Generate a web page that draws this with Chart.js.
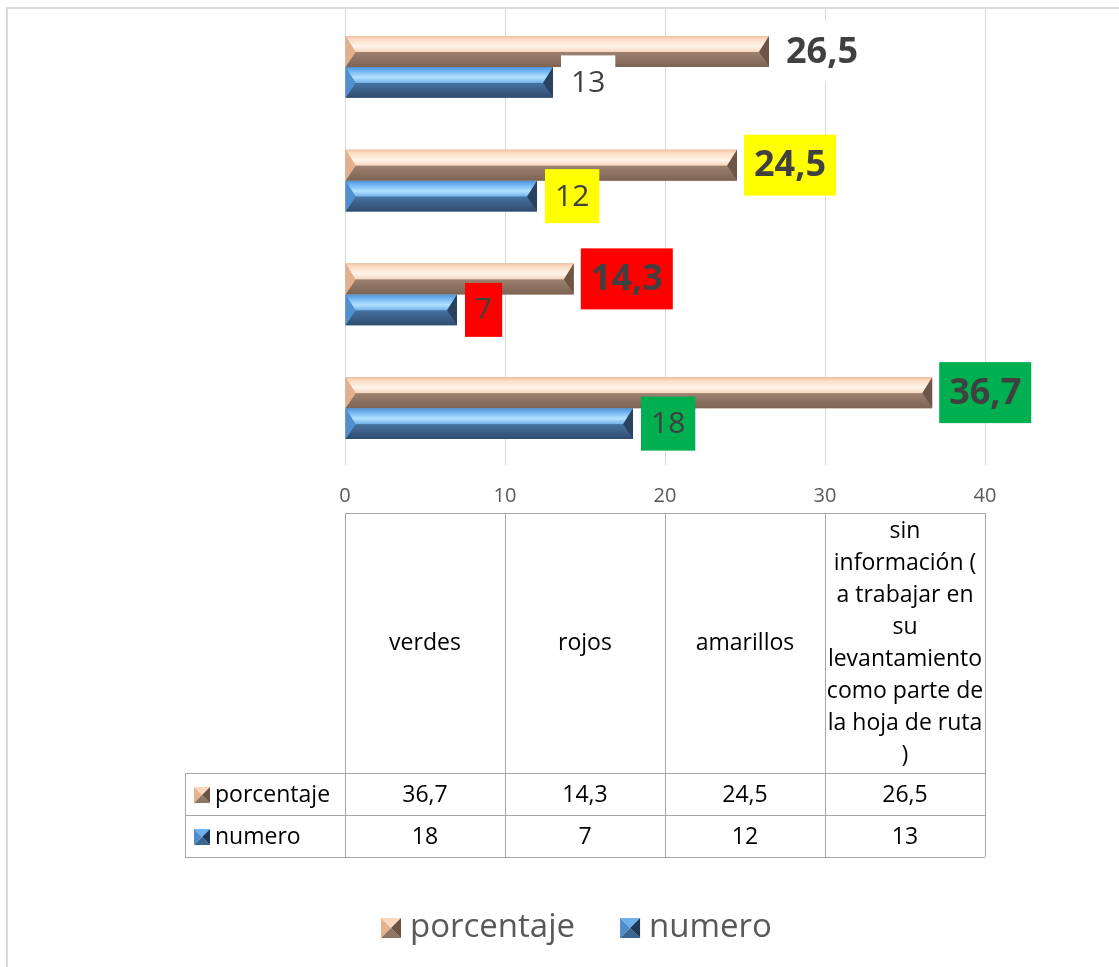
<!DOCTYPE html>
<html>
<head>
<meta charset="utf-8">
<script src="https://cdn.jsdelivr.net/npm/chart.js@4.4.1/dist/chart.umd.min.js"></script>
<style>
  html, body { margin: 0; padding: 0; background: #fff; }
</style>
</head>
<body>
<canvas id="chart" width="1119" height="967"></canvas>
<script>
// data
const categories = [
  "verdes",
  "rojos",
  "amarillos",
  ["sin", "información (", "a trabajar en", "su", "levantamiento", "como parte de", "la hoja de ruta", ")"]
];
const porcentaje = [36.7, 14.3, 24.5, 26.5];
const numero = [18, 7, 12, 13];
const xTicks = [0, 10, 20, 30, 40];
const seriesNames = ["porcentaje", "numero"];

// label box colours, one per category
const labelFills = ["#00b050", "#ff0000", "#ffff00", "#ffffff"];

const FONT = "'Open Sans', 'Noto Sans', sans-serif";

const palettes = {
  porcentaje: {
    top: ["#f2bf9b", "#fcdcc3", "#fff4ea", "#f6d5bc"],
    bot: ["#9d8170", "#7c6353"],
    left: "#e2b08c", right: "#6d5647",
    icon: { hi: "#fcd9bc", left: "#e6b38f", right: "#6b5446", bot: "#8f7463" }
  },
  numero: {
    top: ["#4f8fd0", "#69adef", "#b2e2ff", "#70afea"],
    bot: ["#46729f", "#2f4c6f"],
    left: "#5190cf", right: "#28435f",
    icon: { hi: "#6fb0ee", left: "#4e8ccc", right: "#1f3a58", bot: "#3a6591" }
  }
};

function fmt(v, dec) {
  return dec ? v.toFixed(1).replace(".", ",") : String(v);
}

function poly(ctx, pts, fill) {
  ctx.beginPath();
  ctx.moveTo(pts[0][0], pts[0][1]);
  for (let i = 1; i < pts.length; i++) ctx.lineTo(pts[i][0], pts[i][1]);
  ctx.closePath();
  ctx.fillStyle = fill;
  ctx.fill();
}

// bevelled bar drawn over the library's bar element
function bevelBar(ctx, x0, x1, top, bot, pal) {
  const h = bot - top;
  const d = Math.min(10, (x1 - x0) / 2);
  const mid = top + h * 0.52;
  let g = ctx.createLinearGradient(0, top, 0, mid);
  g.addColorStop(0, pal.top[0]);
  g.addColorStop(0.2, pal.top[1]);
  g.addColorStop(0.65, pal.top[2]);
  g.addColorStop(1, pal.top[3]);
  poly(ctx, [[x0, top], [x1, top], [x1 - d, mid], [x0 + d, mid]], g);
  g = ctx.createLinearGradient(0, mid, 0, bot);
  g.addColorStop(0, pal.bot[0]);
  g.addColorStop(1, pal.bot[1]);
  poly(ctx, [[x0 + d, mid], [x1 - d, mid], [x1, bot], [x0, bot]], g);
  poly(ctx, [[x0, top], [x0 + d, mid], [x0, bot]], pal.left);
  poly(ctx, [[x1, top], [x1, bot], [x1 - d, mid]], pal.right);
}

function pyramid(ctx, x, y, s, c) {
  const cx = x + s / 2, cy = y + s / 2;
  poly(ctx, [[x, y], [x + s, y], [cx, cy]], c.hi);
  poly(ctx, [[x, y], [x, y + s], [cx, cy]], c.left);
  poly(ctx, [[x, y + s], [x + s, y + s], [cx, cy]], c.bot);
  poly(ctx, [[x + s, y], [x + s, y + s], [cx, cy]], c.right);
}

const decor = {
  id: "decor",
  beforeDraw(chart) {
    const ctx = chart.ctx;
    ctx.save();
    ctx.fillStyle = "#fff";
    ctx.fillRect(0, 0, chart.width, chart.height);
    ctx.strokeStyle = "#d9d9d9";
    ctx.lineWidth = 2;
    ctx.strokeRect(7, 8, chart.width + 20, chart.height + 20);
    ctx.restore();
  },
  afterDatasetsDraw(chart) {
    const ctx = chart.ctx;
    ctx.save();
    // bevel every bar
    seriesNames.forEach((name, i) => {
      chart.getDatasetMeta(i).data.forEach(el => {
        const p = el.getProps(["x", "y", "base", "height"], true);
        bevelBar(ctx, p.base, p.x, p.y - p.height / 2, p.y + p.height / 2, palettes[name]);
      });
    });
    // value labels: porcentaje first, numero on top of it
    const specs = [
      { font: "bold 36px " + FONT, boxH: 61, gap: 7, dec: true },
      { font: "30px " + FONT, boxH: 54, gap: 8, dec: false }
    ];
    specs.forEach((s, i) => {
      const vals = chart.data.datasets[i].data;
      ctx.font = s.font;
      ctx.textAlign = "center";
      ctx.textBaseline = "middle";
      chart.getDatasetMeta(i).data.forEach((el, j) => {
        const p = el.getProps(["x", "y"], true);
        const txt = fmt(vals[j], s.dec);
        const w = ctx.measureText(txt).width + 20;
        const left = p.x + s.gap;
        ctx.fillStyle = labelFills[j];
        ctx.fillRect(left, p.y - s.boxH / 2, w, s.boxH);
        ctx.fillStyle = "#404040";
        ctx.fillText(txt, left + w / 2, p.y + 1);
      });
    });
    ctx.restore();
  },
  afterDraw(chart) {
    const ctx = chart.ctx;
    const area = chart.chartArea;
    const n = categories.length;
    const colW = (area.right - area.left) / n;
    const tTop = 513, headH = 260, rowH = 42;
    const rowsTop = tTop + headH;
    const tBot = rowsTop + rowH * 2;
    const labLeft = area.left - colW;
    ctx.save();
    ctx.strokeStyle = "#a6a6a6";
    ctx.lineWidth = 1;
    ctx.beginPath();
    ctx.moveTo(area.left, tTop + 0.5); ctx.lineTo(area.right, tTop + 0.5);
    for (let r = 0; r <= 2; r++) {
      const y = rowsTop + r * rowH + 0.5;
      ctx.moveTo(labLeft, y); ctx.lineTo(area.right, y);
    }
    for (let c = 0; c <= n; c++) {
      const x = Math.round(area.left + c * colW) + 0.5;
      ctx.moveTo(x, tTop); ctx.lineTo(x, tBot);
    }
    ctx.moveTo(labLeft + 0.5, rowsTop); ctx.lineTo(labLeft + 0.5, tBot);
    ctx.stroke();

    ctx.font = "23px " + FONT;
    ctx.textAlign = "center";
    ctx.textBaseline = "middle";
    ctx.fillStyle = "#000";
    const lineH = 32;
    categories.forEach((cat, c) => {
      const lines = Array.isArray(cat) ? cat : [cat];
      const cx = area.left + (c + 0.5) * colW;
      const y0 = tTop + headH / 2 - (lines.length - 1) * lineH / 2;
      lines.forEach((ln, k) => ctx.fillText(ln, cx, y0 + k * lineH));
    });
    const rows = [porcentaje, numero];
    rows.forEach((vals, r) => {
      const cy = rowsTop + r * rowH + rowH / 2 + 1;
      pyramid(ctx, labLeft + 9, cy - 8, 16, palettes[seriesNames[r]].icon);
      ctx.fillStyle = "#000";
      ctx.textAlign = "center";
      vals.forEach((v, c) => {
        ctx.fillText(fmt(v, r === 0), area.left + (c + 0.5) * colW, cy);
      });
      ctx.textAlign = "left";
      ctx.fillText(seriesNames[r], labLeft + 30, cy);
    });

    // legend
    ctx.font = "33px " + FONT;
    ctx.textAlign = "left";
    const legY = 928;
    let lx = 381;
    seriesNames.forEach(name => {
      pyramid(ctx, lx, legY - 10, 20, palettes[name].icon);
      ctx.fillStyle = "#595959";
      ctx.fillText(name, lx + 29, legY);
      lx += 29 + ctx.measureText(name).width + 45;
    });
    ctx.restore();
  }
};

new Chart(document.getElementById("chart"), {
  type: "bar",
  data: {
    labels: categories,
    datasets: [
      { label: seriesNames[0], data: porcentaje, backgroundColor: "#c9a58a", borderWidth: 0 },
      { label: seriesNames[1], data: numero, backgroundColor: "#4a7fb5", borderWidth: 0 }
    ]
  },
  options: {
    indexAxis: "y",
    responsive: false,
    animation: false,
    layout: { padding: { left: 345, right: 134, top: 10, bottom: 0 } },
    datasets: { bar: { categoryPercentage: 0.545, barPercentage: 1 } },
    plugins: { legend: { display: false }, tooltip: { enabled: false } },
    scales: {
      x: {
        min: 0,
        max: 40,
        afterBuildTicks: s => { s.ticks = xTicks.map(v => ({ value: v })); },
        ticks: { padding: 19, color: "#595959", font: { family: FONT, size: 20 } },
        grid: { color: "#d9d9d9", drawTicks: false },
        border: { display: false },
        afterFit: s => { s.height = 502; }
      },
      y: { reverse: true, display: false }
    }
  },
  plugins: [decor]
});
</script>
</body>
</html>
